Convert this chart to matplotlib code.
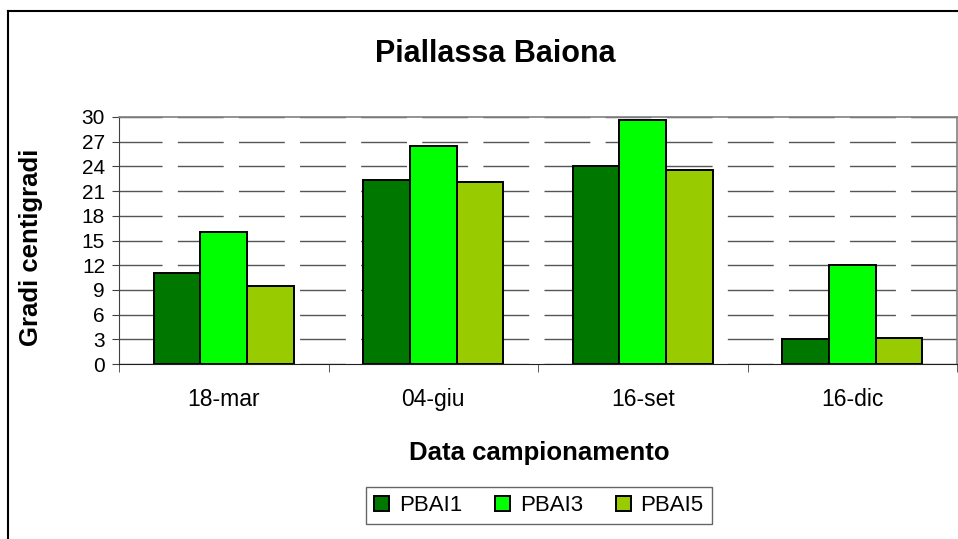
import numpy as np
import matplotlib.pyplot as plt
from matplotlib.lines import Line2D

dates = ["18-mar", "04-giu", "16-set", "16-dic"]
series = ["PBAI1", "PBAI3", "PBAI5"]
pbai1 = [11.0, 22.4, 24.1, 3.0]
pbai3 = [16.0, 26.5, 29.6, 12.0]
pbai5 = [9.5, 22.1, 23.6, 3.2]
colors = ["#007800", "#00ff00", "#99cc00"]
yticks = list(range(0, 31, 3))

plt.rcParams['font.family'] = ['Liberation Sans', 'DejaVu Sans']
plt.rcParams['lines.scale_dashes'] = False

W, H = 958, 539
fig = plt.figure(figsize=(W / 100, H / 100), dpi=100)
ax = fig.add_axes([119 / W, 1 - 364 / H, 838 / W, 247 / H])

x = np.arange(len(dates))
w = 0.223
for i, (vals, name) in enumerate(zip([pbai1, pbai3, pbai5], series)):
    ax.bar(x + (i - 1) * w, vals, width=w, color=colors[i], edgecolor="black",
           linewidth=1.4, label=name, zorder=3)

ax.set_xlim(-0.5, 3.5)
ax.set_ylim(0, 30)
ax.set_yticks(yticks)
ax.set_xticks(x)
ax.set_xticklabels(dates, fontsize=16.5)
ax.set_xticks(np.arange(-0.5, 3.6, 1), minor=True)
ax.tick_params(axis="x", which="major", length=0, pad=17)
ax.tick_params(axis="x", which="minor", length=5.5, direction="out", color="#404040")
ax.tick_params(axis="y", length=5, direction="out", color="#404040", labelsize=15, pad=5)

ax.yaxis.grid(True, color="#555555", linewidth=1.0, linestyle=(2, (33, 11)))
ax.set_axisbelow(True)

for s in ["top", "right"]:
    ax.spines[s].set_color("#808080")
    ax.spines[s].set_linewidth(1.2)
ax.spines["left"].set_color("#404040")
ax.spines["bottom"].set_color("#202020")

fig.text(495 / W, 1 - 54 / H, "Piallassa Baiona", fontsize=22, fontweight="bold",
         ha="center", va="center")
fig.text(539 / W, 1 - 453 / H, "Data campionamento", fontsize=18.5, fontweight="bold",
         ha="center", va="center")
fig.text(31 / W, 1 - 247 / H, "Gradi centigradi", fontsize=18.5, fontweight="bold",
         ha="center", va="center", rotation=90)

leg = fig.legend(loc="center", bbox_to_anchor=(539 / W, 1 - 505.5 / H), ncol=3,
                 fontsize=16, frameon=True, fancybox=False, edgecolor="#404040",
                 handlelength=0.65, handleheight=0.65, handletextpad=0.45,
                 columnspacing=1.5, borderpad=0.35)
leg.get_frame().set_linewidth(1.0)

fig.add_artist(Line2D([8 / W, 8 / W], [0, 1 - 10.5 / H], color="black",
                      linewidth=1.5, transform=fig.transFigure))
fig.add_artist(Line2D([8 / W, 1], [1 - 10.5 / H, 1 - 10.5 / H], color="black",
                      linewidth=1.5, transform=fig.transFigure))

fig.savefig("out.png", dpi=100)
